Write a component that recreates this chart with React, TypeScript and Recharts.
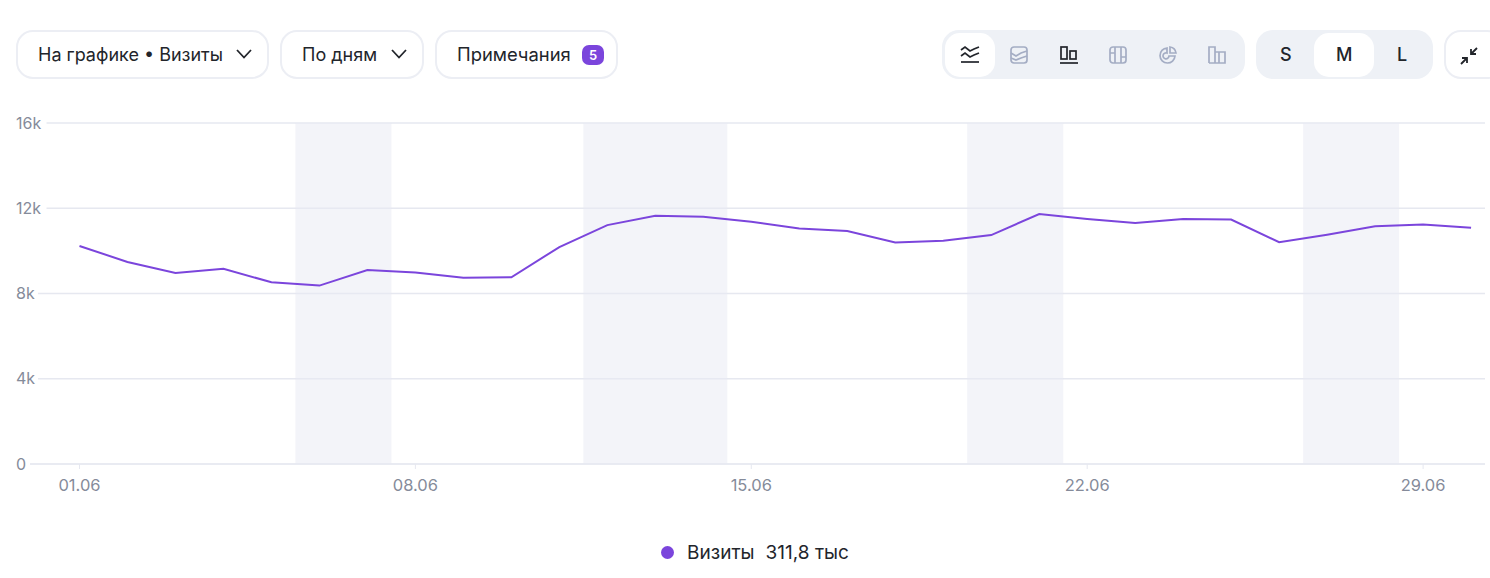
import React from "react";
import { LineChart, Line, XAxis, YAxis, CartesianGrid, ReferenceArea, Legend } from "recharts";

const days = [1, 2, 3, 4, 5, 6, 7, 8, 9, 10, 11, 12, 13, 14, 15, 16, 17, 18, 19, 20, 21, 22, 23, 24, 25, 26, 27, 28, 29, 30];
const visits = [10230, 9480, 8960, 9165, 8525, 8370, 9100, 8980, 8740, 8760, 10180, 11210, 11650, 11600, 11370, 11050, 10930, 10390, 10480, 10740, 11730, 11500, 11310, 11490, 11470, 10410, 10760, 11150, 11240, 11090];
const xTicks = [1, 8, 15, 22, 29];
const yTicks = [0, 4000, 8000, 12000, 16000];
const weekends = [[5.5, 7.5], [11.5, 14.5], [19.5, 21.5], [26.5, 28.5]];
const seriesName = "Визиты";
const seriesTotal = "311,8 тыс";

const data = days.map((day, i) => ({ day, visits: visits[i] }));

const FONT = "Inter, Roboto, sans-serif";
const PURPLE = "#7b45dc";
const BORDER = "#e6e8f0";
const GREY_ICON = "#a4adc4";
const DARK = "#22252b";

const formatDay = (d: number) => String(d).padStart(2, "0") + ".06";
const formatK = (v: number) => (v === 0 ? "0" : v / 1000 + "k");

// grid lines stop short of the labels, so each label sits on a white patch
const YTick = ({ y, payload }: any) => {
  const label = formatK(payload.value);
  return (
    <g>
      <rect x={12} y={y - 10} width={label.length * 8.5 + 9} height={20} fill="#fff" />
      <text x={16} y={y + 5.5} fontSize={16} fill="#858b9a" fontFamily={FONT}>{label}</text>
    </g>
  );
};

const Chevron = ({ x }: { x: number }) => (
  <svg style={{ position: "absolute", left: x, top: 48 }} width={18} height={12} viewBox="0 0 18 12">
    <path d="M2 2 L9 9.5 L16 2" fill="none" stroke={DARK} strokeWidth={1.8} />
  </svg>
);

const Box = ({ left, width, children }: any) => (
  <div style={{ position: "absolute", left, top: 30, width, height: 49, boxSizing: "border-box", border: `2px solid #eceef4`, borderRadius: 17, background: "#fff" }}>
    {children}
  </div>
);

const Label = ({ x, y = 44, size = 18, weight = 400, children }: any) => (
  <span style={{ position: "absolute", left: x, top: y, fontSize: size, fontWeight: weight, lineHeight: "21px", color: DARK, whiteSpace: "nowrap" }}>{children}</span>
);

const icon = (x: number, color: string, body: React.ReactNode) => (
  <svg key={x} style={{ position: "absolute", left: x, top: 45 }} width={20} height={20} viewBox="0 0 20 20" fill="none" stroke={color} strokeWidth={1.7}>
    {body}
  </svg>
);

const Toolbar = () => (
  <>
    <Box left={16} width={253} />
    <Label x={38}>На графике • Визиты</Label>
    <Chevron x={235} />
    <Box left={280} width={144} />
    <Label x={302}>По дням</Label>
    <Chevron x={390} />
    <Box left={435} width={183} />
    <Label x={457} size={18.4}>Примечания</Label>
    <div style={{ position: "absolute", left: 582, top: 45, width: 22, height: 20, borderRadius: 7, background: PURPLE, color: "#fff", fontSize: 13, fontWeight: 600, textAlign: "center", lineHeight: "20px" }}>5</div>

    <div style={{ position: "absolute", left: 942, top: 30, width: 303, height: 49, borderRadius: 17, background: "#eef1f6" }} />
    <div style={{ position: "absolute", left: 945, top: 33, width: 50, height: 44, borderRadius: 15, background: "#fff" }} />
    {icon(960, DARK, <><path d="M1 5 L5 2 L10 6 L14 4 L19 2" /><path d="M1 11 L5 8 L10 12 L14 10 L19 8" /><path d="M1 17 H19" /></>)}
    {icon(1009, GREY_ICON, <><rect x={2} y={2} width={16} height={16} rx={3} /><path d="M2 8 L7 11 L12 8 L18 6" /><path d="M2 13 L7 15 L12 13 L18 11" /></>)}
    {icon(1059, DARK, <><path d="M1 18 H19" /><rect x={2} y={2} width={6} height={12} /><rect x={11} y={6} width={6} height={8} /></>)}
    {icon(1108, GREY_ICON, <><rect x={2} y={2} width={16} height={16} rx={3} /><path d="M7 2 V18 M13 2 V18 M2 8 H7 M13 12 H18" /></>)}
    {icon(1158, GREY_ICON, <><path d="M9 3 A7.5 7.5 0 1 0 17 11 L11 11 A3 3 0 1 1 9 8 Z" /><path d="M12 2 A7 7 0 0 1 18 8 L12 8 Z" /></>)}
    {icon(1207, GREY_ICON, <><path d="M2 18 V2 H8 V18 M8 7 H12 V18 M12 7 H18 V18 H2" /></>)}

    <div style={{ position: "absolute", left: 1256, top: 30, width: 177, height: 49, borderRadius: 17, background: "#eef1f6" }} />
    <div style={{ position: "absolute", left: 1314, top: 33, width: 60, height: 44, borderRadius: 15, background: "#fff" }} />
    <Label x={1280} y={44} size={18} weight={500}>S</Label>
    <Label x={1336} y={44} size={18} weight={500}>M</Label>
    <Label x={1397} y={44} size={18} weight={500}>L</Label>

    <div style={{ position: "absolute", left: 1444, top: 30, width: 60, height: 49, boxSizing: "border-box", border: "2px solid #eceef4", borderRadius: 17, background: "#fff" }} />
    <svg style={{ position: "absolute", left: 1458, top: 46 }} width={22} height={20} viewBox="0 0 22 20" fill="none" stroke={DARK} strokeWidth={1.8}>
      <path d="M19 2 L13 8 M13 3 V8 H18" />
      <path d="M3 18 L9 12 M4 12 H9 V17" />
    </svg>
  </>
);

const LegendRow = () => (
  <div style={{ display: "flex", justifyContent: "center", alignItems: "center", height: 24, fontFamily: FONT, fontSize: 19, color: DARK, paddingLeft: 25 }}>
    <span style={{ width: 13, height: 13, borderRadius: "50%", background: PURPLE, marginRight: 13 }} />
    <span style={{ marginRight: 11 }}>{seriesName}</span>
    <span>{seriesTotal}</span>
  </div>
);

export default function App() {
  return (
    <div style={{ position: "absolute", left: 0, top: 0, width: 1490, height: 578, overflow: "hidden", background: "#fff", fontFamily: FONT }}>
      <LineChart width={1490} height={578} data={data} margin={{ top: 123, right: 5, bottom: 40, left: 0 }}>
        <CartesianGrid vertical={false} stroke={BORDER} strokeWidth={1.5} />
        <XAxis
          dataKey="day"
          type="number"
          domain={[-0.03125, 30.29]}
          ticks={xTicks}
          tickFormatter={formatDay}
          tick={{ fontSize: 16.5, fill: "#858b9a", fontFamily: FONT }}
          tickLine={{ stroke: BORDER }}
          tickSize={5}
          tickMargin={10}
          stroke={BORDER}
          height={50}
        />
        <YAxis domain={[0, 16000]} ticks={yTicks} width={30} axisLine={false} tickLine={false} tick={<YTick />} />
        {weekends.map(([from, to]) => (
          <ReferenceArea key={from} x1={from} x2={to} fill="#e7eaf3" fillOpacity={0.5} stroke="none" />
        ))}
        <Line dataKey="visits" name={seriesName} stroke={PURPLE} strokeWidth={2} dot={false} type="linear" isAnimationActive={false} />
        <Legend verticalAlign="bottom" height={24} content={<LegendRow />} wrapperStyle={{ bottom: 14 }} />
      </LineChart>
      <Toolbar />
    </div>
  );
}
